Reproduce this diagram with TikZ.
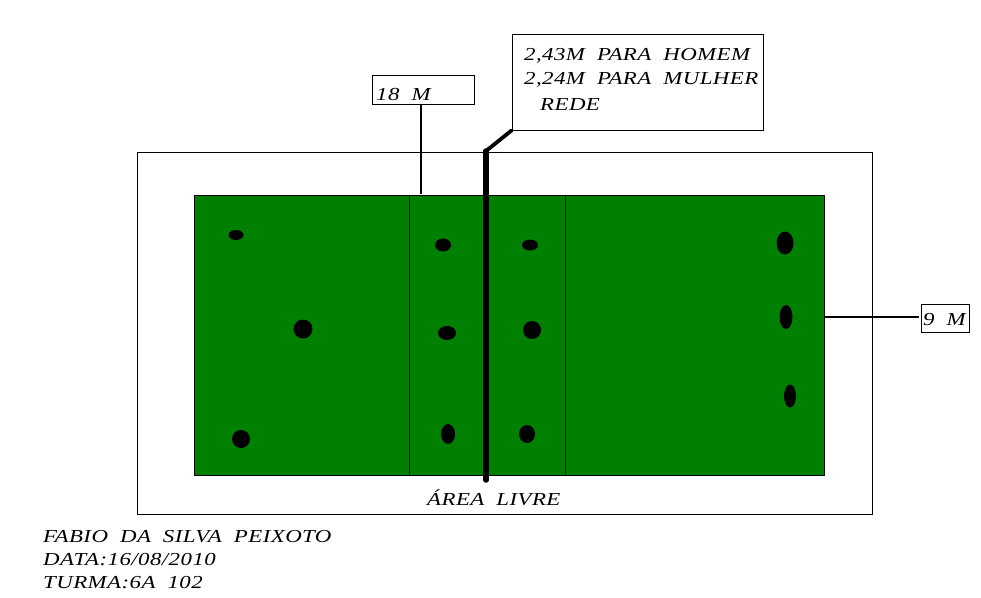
\documentclass[tikz,border=0pt]{standalone}
\usepackage{fontspec}
\usetikzlibrary{positioning,shapes.geometric}
\newfontfamily\handfont[FakeStretch=1.25,LetterSpace=2.4,WordSpace=1.95]{Liberation Serif}
\definecolor{courtgreen}{RGB}{0,128,0}

\begin{document}
\begin{tikzpicture}[
    x=1pt, y=-1pt,
    box/.style={rectangle, draw, line width=0.9pt, inner sep=0pt},
    dot/.style={ellipse, fill=black, inner sep=0pt},
    label/.style={inner sep=0pt, anchor=base west, font=\handfont\itshape\fontsize{18.3}{18.3}\selectfont},
    lead/.style={line width=1.6pt},
    net/.style={line width=5.5pt}
]
    \useasboundingbox (0,0) rectangle (981,597);

    % Free area
    \node[box, minimum width=735pt, minimum height=362pt] (area) at (504.5,333) {};

    % Court
    \node[box, fill=courtgreen, minimum width=630pt, minimum height=280pt] (court) at (509,335) {};

    % Attack lines
    \coordinate (atkLt) at (409,195);
    \coordinate (atkLb) at (409,475);
    \coordinate (atkRt) at (565,195);
    \coordinate (atkRb) at (565,475);
    \draw[line width=0.7pt] (atkLt) -- (atkLb);
    \draw[line width=0.7pt] (atkRt) -- (atkRb);

    % Players
    \foreach \px/\py/\w/\h [count=\i] in {
        236/235/15/10, 303/329/19/19, 241/439/18/18,
        443/245/16/13, 447/333/18/14, 448/434/14/20,
        530/245/16/11, 532/330/18/18, 527/434/16/18,
        785/243/17/23, 786/317/13/24, 790/396/12/23}
        \node[dot, minimum width=\w pt, minimum height=\h pt] (player\i) at (\px,\py) {};

    % Labels
    \node[box, minimum width=102pt, minimum height=29pt] (length) at (423,89.5) {};
    \node[box, minimum width=251pt, minimum height=96pt] (rede) at (637.5,82) {};
    \node[box, minimum width=48pt, minimum height=28pt] (width) at (945,318) {};

    \node[label] (lengthtxt) at (376,100) {18 M};
    \node[label] (homem) at (524,60) {2,43M PARA HOMEM};
    \node[label] (mulher) at (524,84) {2,24M PARA MULHER};
    \node[label] (redetxt) at (540,110) {REDE};
    \node[label] (widthtxt) at (923,325) {9 M};
    \node[label] (livre) at (427,505) {ÁREA LIVRE};
    \node[label] (nome) at (43,542) {FABIO DA SILVA PEIXOTO};
    \node[label] (data) at (43,565) {DATA:16/08/2010};
    \node[label] (turma) at (43,588) {TURMA:6A 102};

    % Net
    \coordinate (netbend) at (486,151);
    \coordinate (netend) at (486,480);
    \draw[net, line cap=round] (netend) -- (netbend);
    \draw[line width=3.8pt, line cap=round] (netbend) -- (rede.south west);

    % Leaders
    \coordinate (lengthend) at (421,194);
    \coordinate (widthend) at (824,317);
    \coordinate (widthstart) at (919,317);
    \draw[lead] (length.south -| lengthend) -- (lengthend);
    \draw[lead] (widthend) -- (widthstart);
\end{tikzpicture}
\end{document}
